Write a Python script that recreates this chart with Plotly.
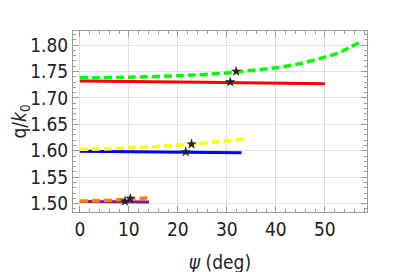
import plotly.graph_objects as go

# Green dashed curve
green_psi = [0, 10, 20, 25, 30, 35, 40, 45, 50, 53, 55, 57.7]
green_q = [1.738, 1.739, 1.742, 1.744, 1.747, 1.752, 1.757, 1.765, 1.777, 1.786, 1.795, 1.808]
# Red solid
red_psi = [0, 25, 50]
red_q = [1.732, 1.7295, 1.727]
# Yellow dashed
yellow_psi = [0, 5, 11.6, 17, 22.8, 28, 33.4]
yellow_q = [1.603, 1.6035, 1.6063, 1.609, 1.6126, 1.617, 1.622]
# Blue solid
blue_psi = [0, 16, 33]
blue_q = [1.599, 1.5977, 1.5964]
# Orange dashed
orange_psi = [0, 5, 10, 14.5]
orange_q = [1.505, 1.506, 1.5085, 1.5116]
# Purple solid
purple_psi = [0, 7, 14.1]
purple_q = [1.504, 1.5035, 1.503]
# Star markers
star_psi = [31.9, 30.7, 22.8, 21.6, 10.3, 9.2]
star_q = [1.750, 1.730, 1.6125, 1.598, 1.5097, 1.5045]

fig = go.Figure()
def add(x, y, color, dash, w):
    fig.add_trace(go.Scatter(x=x, y=y, mode="lines", line=dict(color=color, width=w, dash=dash, shape="spline"), showlegend=False))

add(red_psi, red_q, "#ff0000", "solid", 3)
add(green_psi, green_q, "#00ff00", "8px,4px", 3.5)
add(blue_psi, blue_q, "#0000ff", "solid", 3)
add(yellow_psi, yellow_q, "#ffff00", "8px,4px", 3.5)
add(purple_psi, purple_q, "#8c1496", "solid", 3)
add(orange_psi, orange_q, "#ff8000", "8px,4px", 3.5)
fig.add_trace(go.Scatter(x=star_psi, y=star_q, mode="markers",
                         marker=dict(symbol="star", size=8, color="#222"), showlegend=False))

font = "DejaVu Sans Condensed, DejaVu Sans"
axis_common = dict(showline=True, linecolor="#9a9a9a", linewidth=1, mirror="allticks",
                   ticks="inside", ticklen=6, tickcolor="#9a9a9a", automargin=False,
                   showgrid=True, gridcolor="#e0e0e0", gridwidth=1, zeroline=False,
                   tickfont=dict(family=font, size=19, color="#222"))
fig.update_xaxes(range=[-1.4, 58.6], tick0=0, dtick=10,
                 minor=dict(ticks="inside", dtick=2, ticklen=3, tickcolor="#9a9a9a", showgrid=False),
                 title=dict(text="<i>ψ</i> (deg)", font=dict(family=font, size=19, color="#222"), standoff=16),
                 **axis_common)
fig.update_yaxes(range=[1.4843, 1.8265], tick0=1.5, dtick=0.05, tickformat=".2f",
                 minor=dict(ticks="inside", dtick=0.01, ticklen=3, tickcolor="#9a9a9a", showgrid=False),
                 title=dict(text="q/<i>k</i><sub>0</sub>", font=dict(family=font, size=19, color="#222"), standoff=8),
                 **axis_common)
# page body has an 8px margin, so the plot area is offset accordingly
fig.update_layout(width=398, height=272, margin=dict(l=65, r=39, t=23, b=68),
                  plot_bgcolor="white", paper_bgcolor="white")
fig.write_html("out.html")
